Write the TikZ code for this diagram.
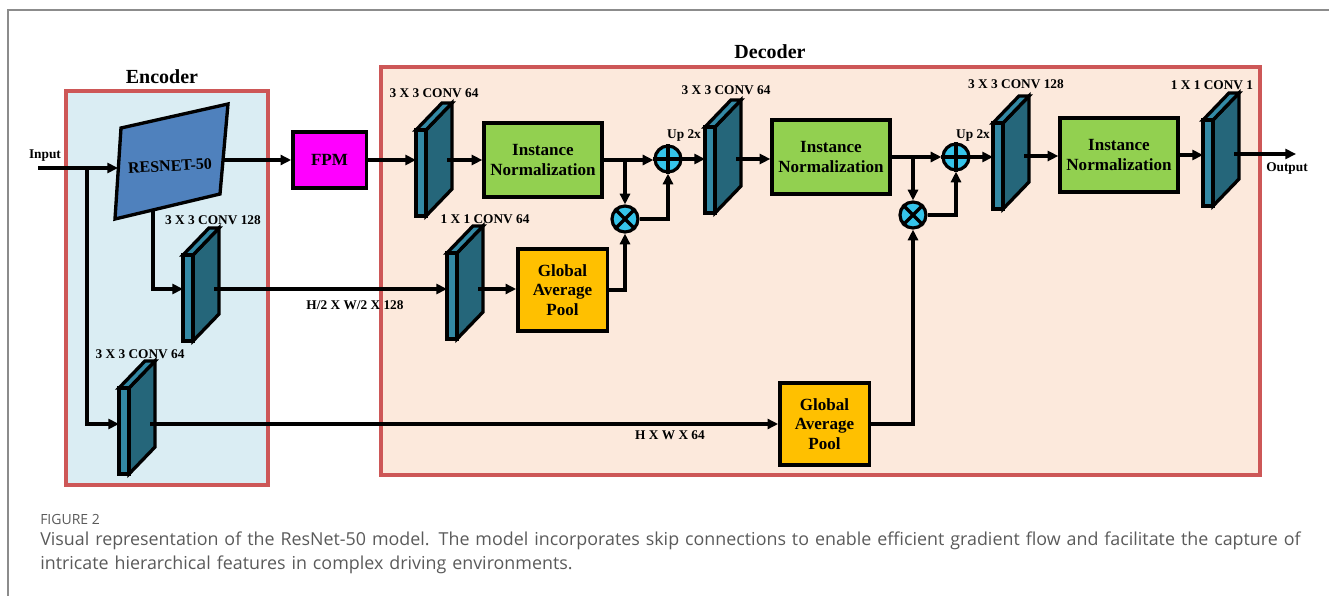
\documentclass[tikz,border=0pt]{standalone}
\usepackage{fontspec}
\setmainfont{Liberation Serif}
\newfontfamily\capfont{Open Sans}
\usetikzlibrary{arrows.meta,calc}
\definecolor{encfill}{HTML}{DAEDF3}
\definecolor{decfill}{HTML}{FCE9DC}
\definecolor{regred}{HTML}{CD5757}
\definecolor{resblue}{HTML}{4F81BD}
\definecolor{fpmmag}{HTML}{FF00FF}
\definecolor{ingreen}{HTML}{92D050}
\definecolor{gapyel}{HTML}{FFC000}
\definecolor{convlight}{HTML}{3389A5}
\definecolor{convdark}{HTML}{25667A}
\definecolor{opcyan}{HTML}{35C4EA}
\definecolor{framegray}{HTML}{8C8C8C}
\definecolor{capgray}{HTML}{5A5A5A}
\tikzset{
  blk/.style={draw=black, line width=2.5pt, line join=miter},
  boxlbl/.style={blk, font=\bfseries\fontsize{12.8}{14.5}\selectfont, align=center, inner sep=0pt},
  inbox/.style={boxlbl, fill=ingreen, minimum width=88.5pt, minimum height=55.5pt},
  gapbox/.style={boxlbl, fill=gapyel, minimum width=67pt, minimum height=61.5pt},
  opcirc/.style={circle, draw=black, line width=2.4pt, fill=opcyan, minimum size=19.5pt, inner sep=0pt},
  arr/.style={line width=2.3pt, -{Triangle[length=8pt,width=7.5pt]}},
  lbl/.style={font=\bfseries\fontsize{10}{12}\selectfont, inner sep=0pt},
  region/.style={draw=regred, line width=2.4pt},
  conv/.pic={
    \path[blk, fill=convdark] (10,-#1) -- (36,-#1-27) -- (36,-#1+59) -- (10,-#1+86) -- cycle;
    \path[blk, fill=convlight] (0,-#1) -- (26,-#1-27) -- (36,-#1-27) -- (10,-#1) -- cycle;
    \path[blk, fill=convlight] (0,-#1) rectangle (10,-#1+86);
    \coordinate (-in) at (0,0);
    \coordinate (-out) at (31,0);
  }
}
\begin{document}
\begin{tikzpicture}[x=0.75pt,y=-0.75pt]
\useasboundingbox (0,0) rectangle (1329,596);
% outer frame
\draw[framegray, line width=1.5pt] (8,596) -- (8,10) -- (1329,10);
% regions
\draw[region, fill=encfill] (66,91) rectangle (268,485);
\draw[region, fill=decfill] (381,67) rectangle (1260,475);
\node[font=\bfseries\fontsize{15}{17}\selectfont] (enct) at (162,77) {Encoder};
\node[font=\bfseries\fontsize{15}{17}\selectfont] (dect) at (770,52) {Decoder};

% input
\coordinate (inp) at (38,168);
\node[lbl] (inpt) at (45,156) {Input};
\coordinate (br0) at (87,168);

% resnet
\coordinate (rtl) at (121,128);
\coordinate (rtr) at (228,104);
\coordinate (rbr) at (220,194);
\coordinate (rbl) at (115,219);
\draw[blk, fill=resblue] (rtl) -- (rtr) -- (rbr) -- (rbl) -- cycle;
\node[font=\bfseries\fontsize{12}{14}\selectfont, rotate=3] (res) at (170,166) {RESNET-50};
\coordinate (res-in) at (118,168);
\coordinate (res-out) at (223,160);
\coordinate (res-down) at (153,210);

% FPM
\node[boxlbl, fill=fpmmag, minimum width=55pt, minimum height=42pt] (fpm) at (329.5,160) {FPM};

% conv blocks
\pic (c128) at (183,289) {conv=34};
\pic (c64e) at (119,424) {conv=36};
\pic (c1) at (416,160) {conv=30};
\pic (c2) at (447,289) {conv=36};
\pic (c3) at (705,159) {conv=32};
\pic (c4) at (993,156) {conv=33};
\pic (c5) at (1203,154) {conv=34};

% conv labels
\node[lbl] (l128) at (213,220) {3 X 3 CONV 128};
\node[lbl] (l64e) at (140,354) {3 X 3 CONV 64};
\node[lbl] (l1) at (434,93) {3 X 3 CONV 64};
\node[lbl] (l2) at (485,219) {1 X 1 CONV 64};
\node[lbl] (l3) at (726,90) {3 X 3 CONV 64};
\node[lbl] (l4) at (1016,84) {3 X 3 CONV 128};
\node[lbl] (l5) at (1212,85) {1 X 1 CONV 1};

% boxes
\node[inbox] (in1) at (543,160) {Instance\\Normalization};
\node[inbox] (in2) at (831,157) {Instance\\Normalization};
\node[inbox] (in3) at (1119,155) {Instance\\Normalization};
\node[gapbox] (gap1) at (562.5,290) {Global\\Average\\Pool};
\node[gapbox] (gap2) at (824.5,424) {Global\\Average\\Pool};

% operators
\node[opcirc] (p1) at (668,159) {};
\draw[line width=2.4pt] (p1.north) -- (p1.south) (p1.west) -- (p1.east);
\node[opcirc] (m1) at (625,219) {};
\draw[line width=2.4pt] (m1.north west) -- (m1.south east) (m1.north east) -- (m1.south west);
\node[opcirc] (p2) at (956,157) {};
\draw[line width=2.4pt] (p2.north) -- (p2.south) (p2.west) -- (p2.east);
\node[opcirc] (m2) at (913,215) {};
\draw[line width=2.4pt] (m2.north west) -- (m2.south east) (m2.north east) -- (m2.south west);

\node[lbl] (up1) at (684,136) {Up 2x};
\node[lbl] (up2) at (973,136) {Up 2x};

% connectors: encoder
\draw[arr] (inp) -- (res-in);
\draw[arr] (br0) |- (c64e-in);
\draw[arr] (res-down) |- (c128-in);
\draw[arr] (res-out) -- (fpm.west);
\draw[arr] (c128-out) -- (c2-in);
\node[lbl] (hw2) at (355,305) {H/2 X W/2 X 128};
\draw[arr] (c64e-out) -- (c64e-out -| gap2.west);
\node[lbl] (hw) at (670,435) {H X W X 64};

% decoder row 1
\draw[arr] (fpm.east) -- (c1-in);
\draw[arr] (c1-out) -- (c1-out -| in1.west);
\draw[arr] (in1.east) -- (in1.east -| p1.west);
\coordinate (b1) at (625,160);
\draw[arr] (b1) -- (m1.north);
\draw[arr] (c2-out) -- (c2-out -| gap1.west);
\draw[arr] (gap1.east) -| (m1.south);
\draw[arr] (m1.east) -| (p1.south);
\draw[arr] (p1.east) -- (c3-in);

% decoder row 2
\draw[arr] (c3-out) -- (c3-out -| in2.west);
\draw[arr] (in2.east) -- (in2.east -| p2.west);
\coordinate (b2) at (913,157);
\draw[arr] (b2) -- (m2.north);
\draw[arr] (gap2.east) -| (m2.south);
\draw[arr] (m2.east) -| (p2.south);
\draw[arr] (p2.east) -- (p2.east -| c4-in);

% decoder row 3
\draw[arr] (c4-out) -- (c4-out -| in3.west);
\draw[arr] (in3.east) -- (in3.east -| c5-in);
\coordinate (outp) at (1296,154);
\draw[arr] (c5-out) -- (outp);
\node[lbl] (outt) at (1287,169) {Output};

% caption
\node[anchor=west, inner sep=0pt, text=capgray, font=\capfont\fontsize{10.5}{12}\selectfont] (fig) at (40,519) {FIGURE 2};
\node[anchor=north west, inner sep=0pt, text=capgray, align=left, text width=990pt,
  font=\capfont\fontsize{13.4}{17.3}\selectfont] (cap) at (40,532)
  {Visual representation of the ResNet-50 model. The model incorporates skip connections to enable efficient gradient flow and facilitate the capture of\\
   intricate hierarchical features in complex driving environments.};
\end{tikzpicture}
\end{document}
